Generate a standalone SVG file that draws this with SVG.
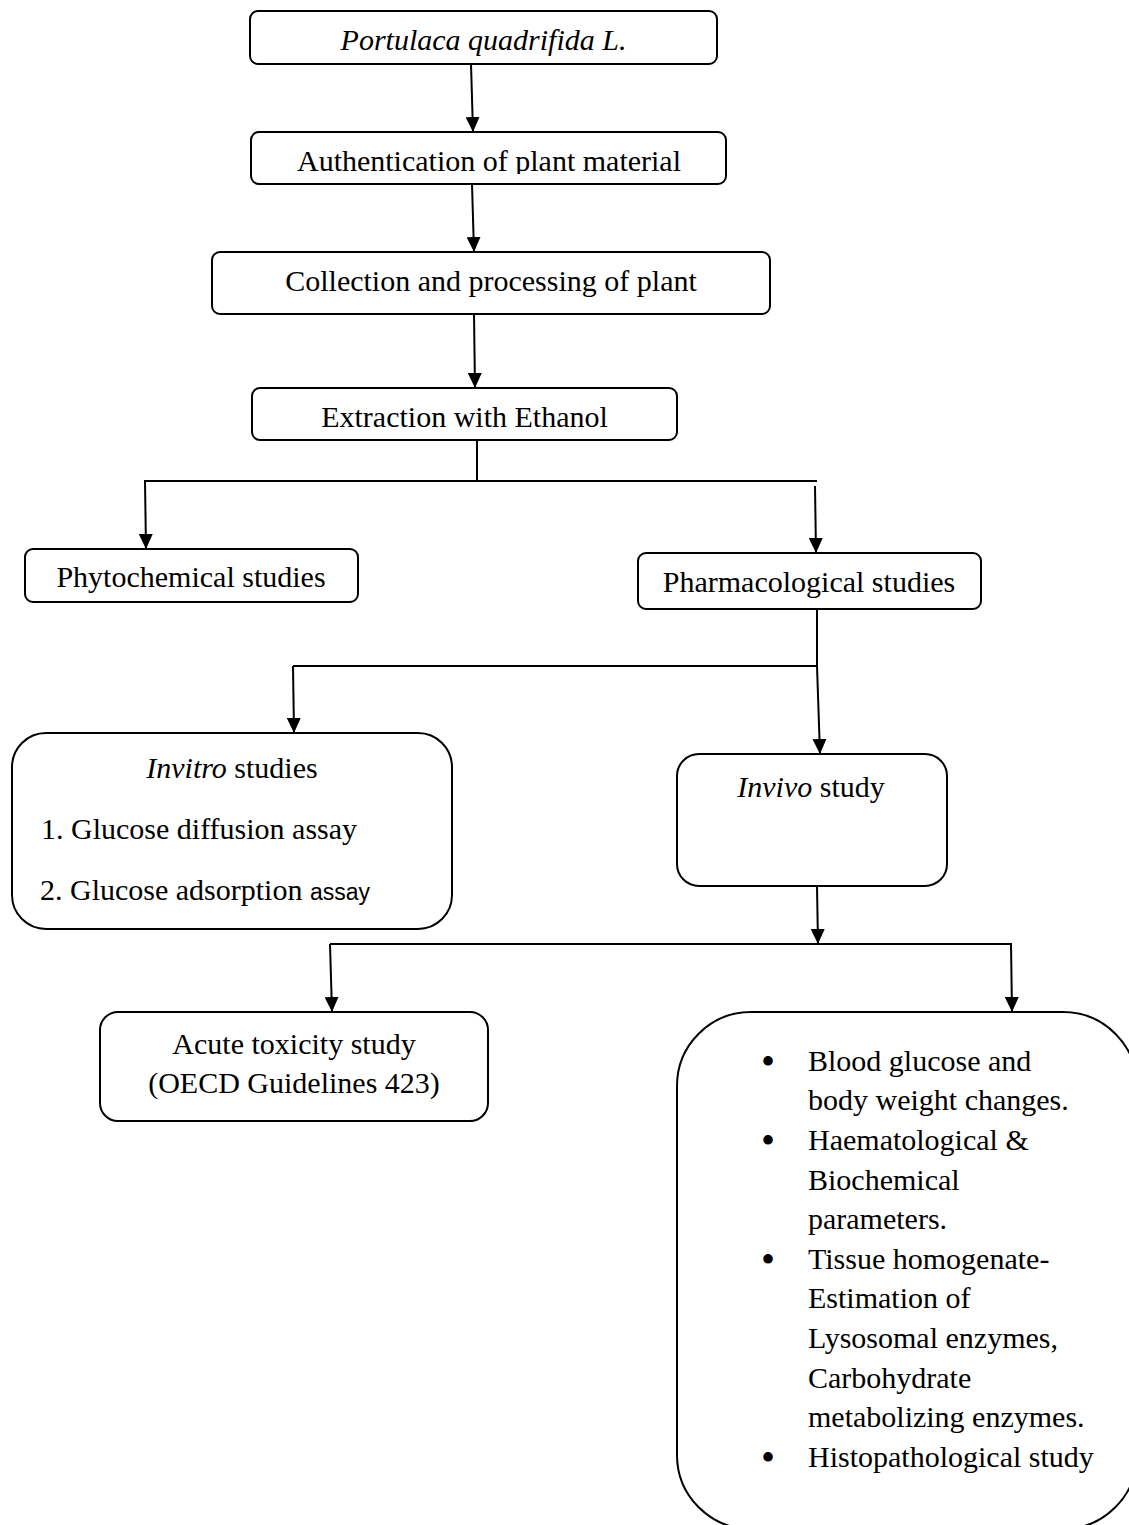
<svg xmlns="http://www.w3.org/2000/svg" width="1129" height="1525" viewBox="0 0 1129 1525">
<style>
.box{fill:#fff;stroke:#000;stroke-width:2}
.t{font-family:"Liberation Serif","Times New Roman",serif;font-size:30px;fill:#000}
.c{text-anchor:middle}
.i{font-style:italic}
.b{font-family:"Liberation Serif","Times New Roman",serif;font-size:40px;fill:#000}
.ln{fill:none;stroke:#000;stroke-width:2}
.ar{fill:none;stroke:#000;stroke-width:2;marker-end:url(#ah)}
</style>
<defs>
<marker id="ah" viewBox="0 0 15 14" markerWidth="15" markerHeight="14" refX="15" refY="7" orient="auto" markerUnits="userSpaceOnUse">
<path d="M0,0 L15,7 L0,14 z" fill="#000"/>
</marker>
<clipPath id="clipAuth"><rect x="251" y="132" width="475" height="42"/></clipPath>
</defs>
<rect width="1129" height="1525" fill="#fff"/>

<g id="connectors">
<line class="ar" x1="471" y1="64" x2="473" y2="132"/>
<line class="ar" x1="472" y1="184" x2="474" y2="252"/>
<line class="ar" x1="474" y1="314" x2="475" y2="388"/>
<polyline class="ln" points="477,440 477,481"/>
<polyline class="ln" points="144,481 817,481"/>
<line class="ar" x1="145" y1="481" x2="146" y2="549"/>
<line class="ar" x1="815" y1="486" x2="816" y2="553"/>
<polyline class="ln" points="817,609 817,666"/>
<polyline class="ln" points="293,666 817,666"/>
<line class="ar" x1="293" y1="666" x2="294" y2="733"/>
<line class="ar" x1="817" y1="666" x2="820" y2="754"/>
<line class="ar" x1="817" y1="886" x2="818" y2="944"/>
<polyline class="ln" points="330,944 1012,944"/>
<line class="ar" x1="330" y1="944" x2="332" y2="1012"/>
<line class="ar" x1="1011" y1="944" x2="1012" y2="1012"/>
</g>

<g id="node-portulaca">
<rect class="box" x="250" y="11" width="467" height="53" rx="8"/>
<text class="t c i" x="483.5" y="50">Portulaca quadrifida L.</text>
</g>

<g id="node-authentication">
<rect class="box" x="251" y="132" width="475" height="52" rx="8"/>
<text class="t c" x="489" y="171" clip-path="url(#clipAuth)">Authentication of plant material</text>
</g>

<g id="node-collection">
<rect class="box" x="212" y="252" width="558" height="62" rx="8"/>
<text class="t c" x="491" y="291">Collection and processing of plant</text>
</g>

<g id="node-extraction">
<rect class="box" x="252" y="388" width="425" height="52" rx="8"/>
<text class="t c" x="464.5" y="427">Extraction with Ethanol</text>
</g>

<g id="node-phytochemical">
<rect class="box" x="25" y="549" width="333" height="53" rx="8"/>
<text class="t c" x="191" y="587">Phytochemical studies</text>
</g>

<g id="node-pharmacological">
<rect class="box" x="638" y="553" width="343" height="56" rx="8"/>
<text class="t c" x="809" y="592">Pharmacological studies</text>
</g>

<g id="node-invitro">
<rect class="box" x="12" y="733" width="440" height="196" rx="34"/>
<text class="t c" x="232" y="778"><tspan font-style="italic">Invitro</tspan> studies</text>
<text class="t" x="41" y="839">1. Glucose diffusion assay</text>
<text class="t" x="40" y="900">2. Glucose adsorption <tspan font-family="Liberation Sans, Arial, sans-serif" font-size="23">assay</tspan></text>
</g>

<g id="node-invivo">
<rect class="box" x="677" y="754" width="270" height="132" rx="22"/>
<text class="t c" x="811" y="797"><tspan font-style="italic">Invivo</tspan> study</text>
</g>

<g id="node-acute">
<rect class="box" x="100" y="1012" width="388" height="109" rx="18"/>
<text class="t c" x="294" y="1054">Acute toxicity study</text>
<text class="t c" x="294" y="1093">(OECD Guidelines 423)</text>
</g>

<g id="node-parameters">
<rect class="box" x="677" y="1012" width="460" height="517" rx="74"/>
<text class="b" x="761" y="1075">•</text>
<text class="t" x="808" y="1071">Blood glucose and</text>
<text class="t" x="808" y="1110">body weight changes.</text>
<text class="b" x="761" y="1154">•</text>
<text class="t" x="808" y="1150">Haematological &amp;</text>
<text class="t" x="808" y="1190">Biochemical</text>
<text class="t" x="808" y="1229">parameters.</text>
<text class="b" x="761" y="1273">•</text>
<text class="t" x="808" y="1269">Tissue homogenate-</text>
<text class="t" x="808" y="1308">Estimation of</text>
<text class="t" x="808" y="1348">Lysosomal enzymes,</text>
<text class="t" x="808" y="1388">Carbohydrate</text>
<text class="t" x="808" y="1427">metabolizing enzymes.</text>
<text class="b" x="761" y="1471">•</text>
<text class="t" x="808" y="1467">Histopathological study</text>
</g>
</svg>
